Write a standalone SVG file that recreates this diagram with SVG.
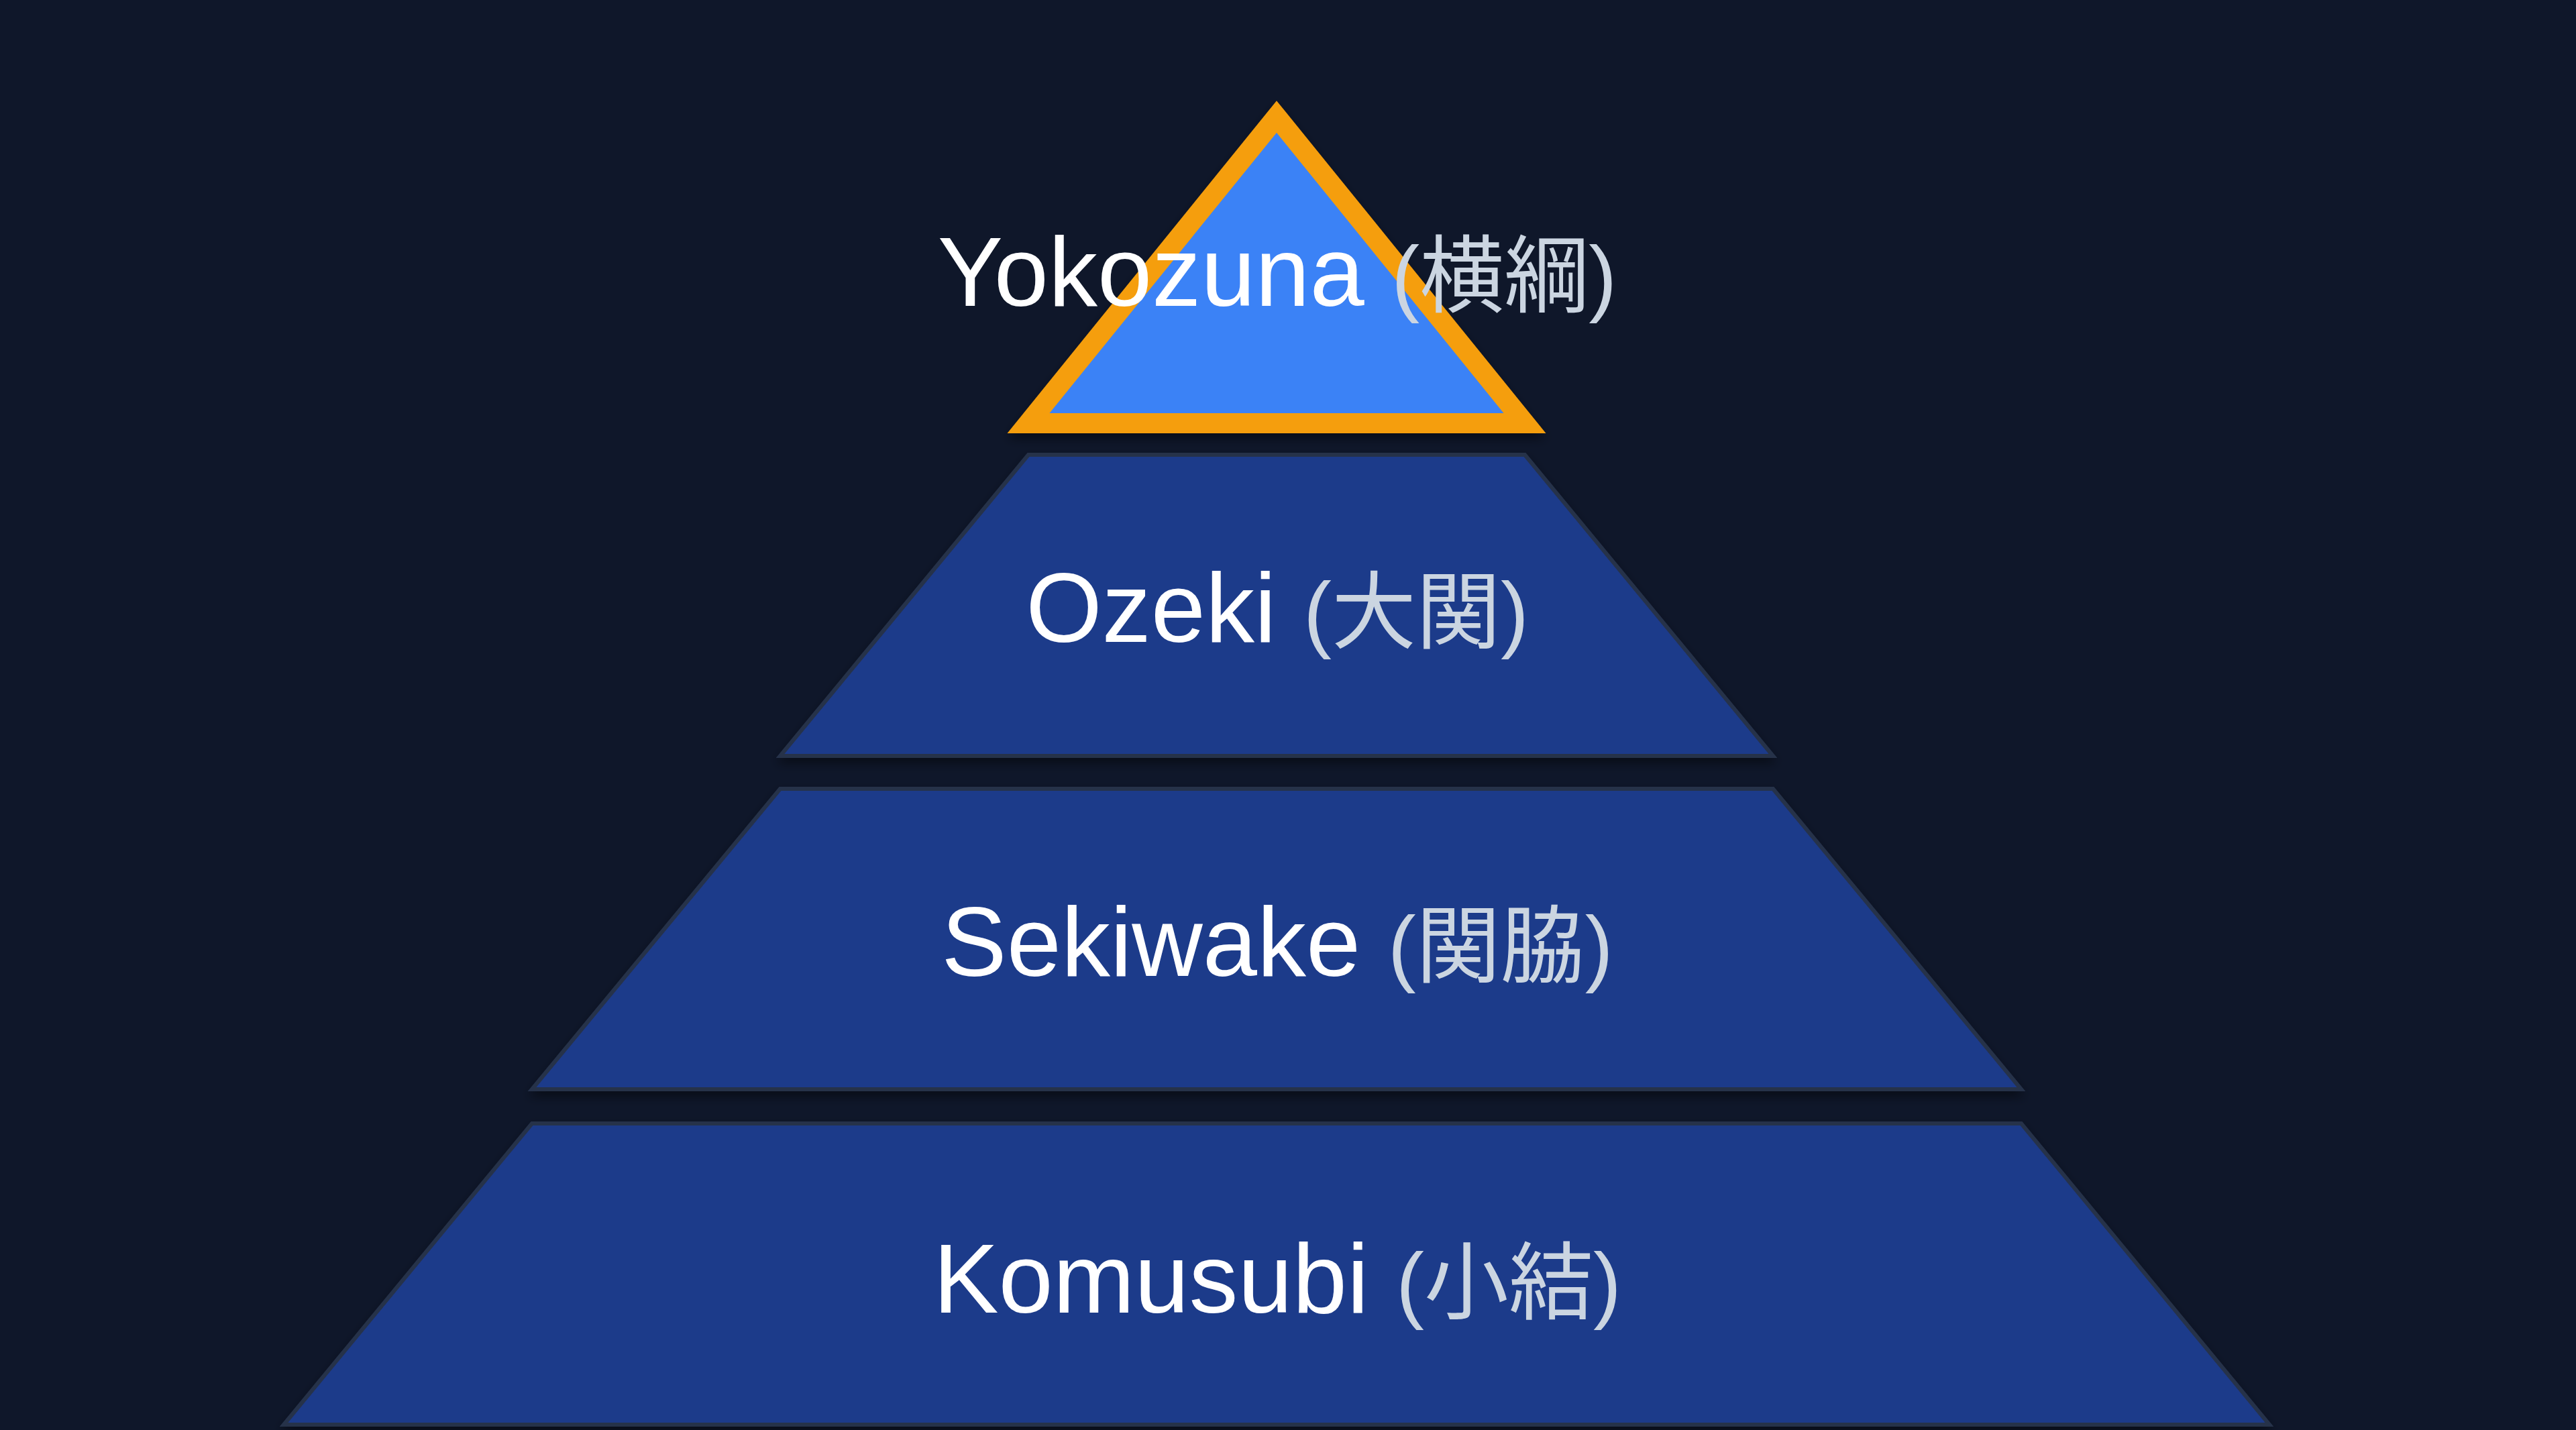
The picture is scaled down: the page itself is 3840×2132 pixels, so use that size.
<svg xmlns="http://www.w3.org/2000/svg" width="3840" height="2132" viewBox="0 0 3840 2132">
  <style>
    .tier { fill: #1e3a8a; stroke: #26324a; stroke-width: 6; stroke-linejoin: miter; }
    .top { fill: #3b82f6; stroke: #f59e0b; stroke-width: 30; stroke-linejoin: miter; stroke-miterlimit: 10; }
    .lbl { font-family: "Liberation Sans", Arial, "Noto Sans CJK JP", sans-serif; font-size: 146px; fill: #ffffff; text-anchor: middle; }
    .jp { font-family: "Liberation Sans", "Noto Sans CJK JP", sans-serif; font-size: 126px; fill: #cbd5e1; }
  </style>
  <defs>
    <filter id="shadow" x="-10%" y="-10%" width="120%" height="130%">
      <feDropShadow dx="0" dy="8" stdDeviation="8" flood-color="#000000" flood-opacity="0.45"/>
    </filter>
  </defs>
  <rect x="0" y="0" width="3840" height="2132" fill="#0f172a"/>

  <g id="tier-komusubi">
    <polygon class="tier" filter="url(#shadow)" points="793,1675 3013,1675 3383,2124 423,2124"/>
    <text class="lbl" x="1904" y="1957">Komusubi <tspan class="jp">(小結)</tspan></text>
  </g>

  <g id="tier-sekiwake">
    <polygon class="tier" filter="url(#shadow)" points="1163,1176 2643,1176 3013,1624 793,1624"/>
    <text class="lbl" x="1904" y="1455">Sekiwake <tspan class="jp">(関脇)</tspan></text>
  </g>

  <g id="tier-ozeki">
    <polygon class="tier" filter="url(#shadow)" points="1533,678 2273,678 2643,1127 1163,1127"/>
    <text class="lbl" x="1904" y="957">Ozeki <tspan class="jp">(大関)</tspan></text>
  </g>

  <g id="tier-yokozuna">
    <polygon class="top" filter="url(#shadow)" points="1903,174 2273,631 1533,631"/>
    <text class="lbl" x="1904" y="456">Yokozuna <tspan class="jp">(横綱)</tspan></text>
  </g>
</svg>
